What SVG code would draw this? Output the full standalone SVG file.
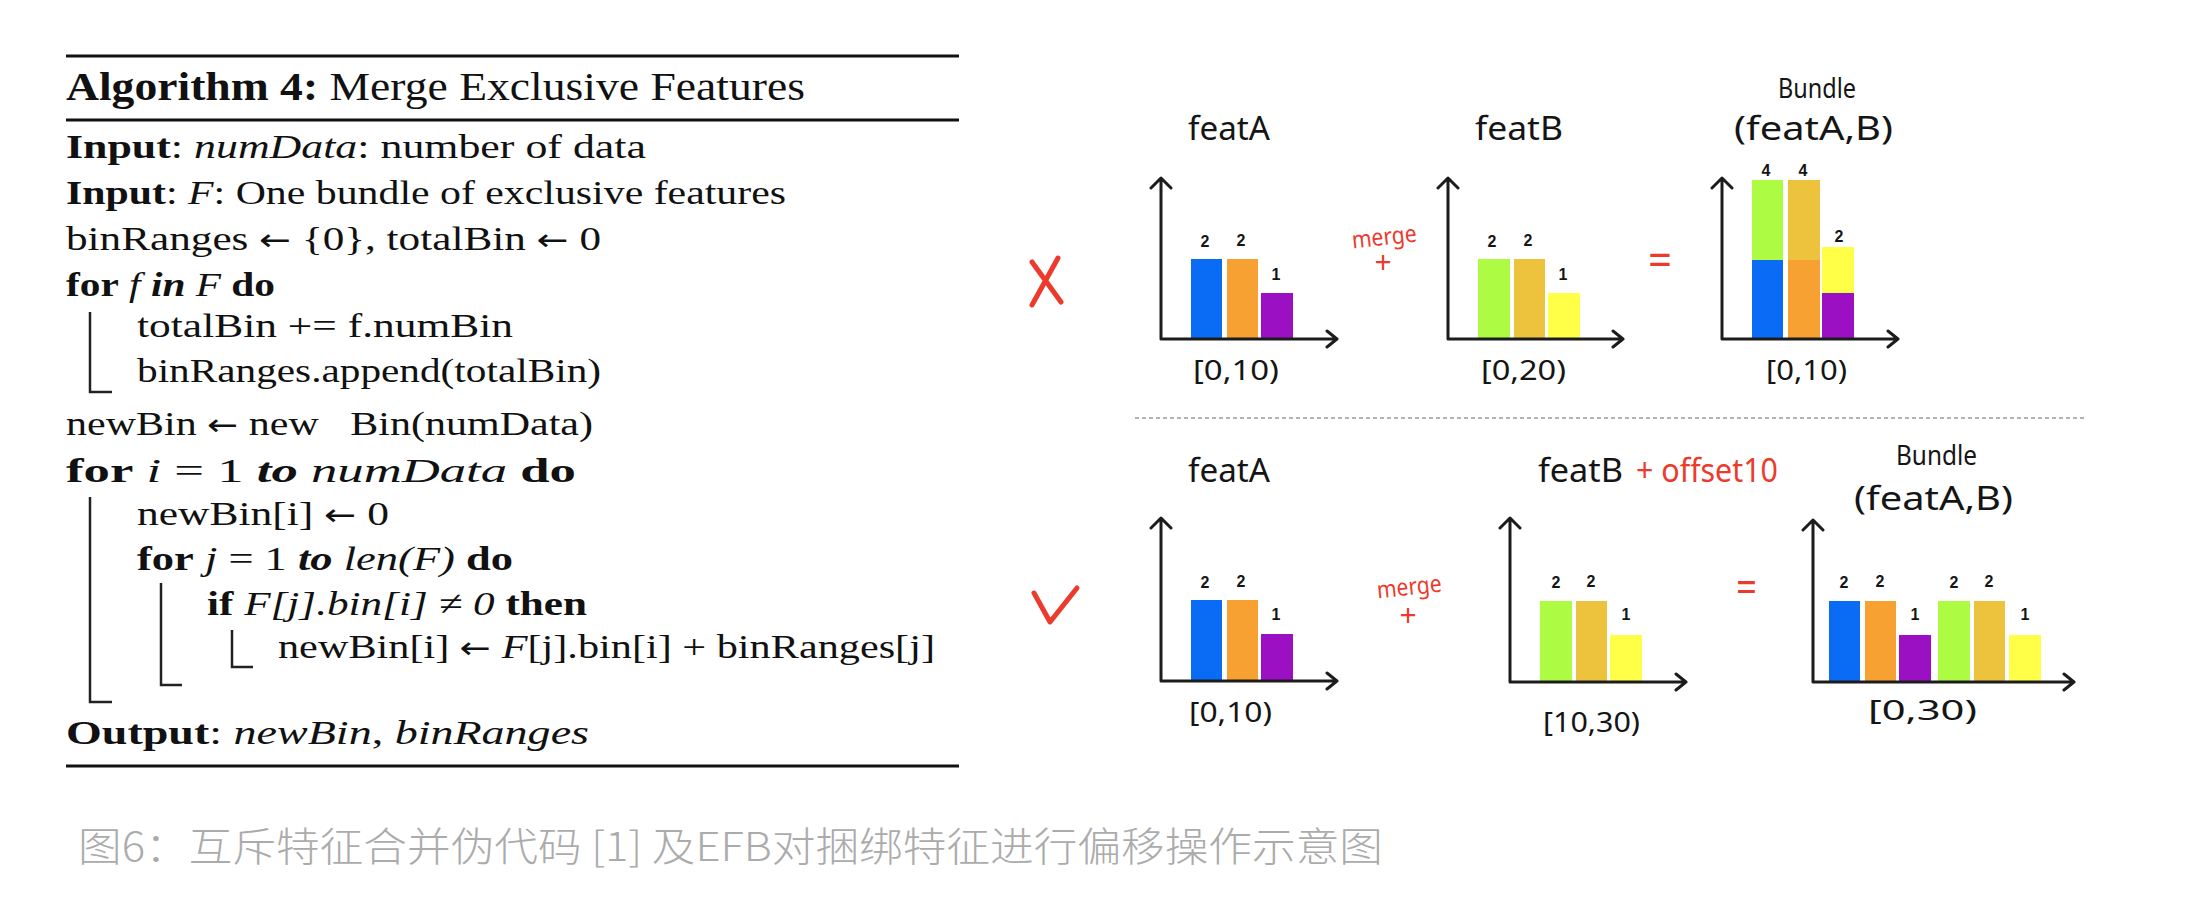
<svg xmlns="http://www.w3.org/2000/svg" width="2192" height="918" viewBox="0 0 2192 918">
<style>
.alg{font-family:"Liberation Serif",serif;font-size:34px;fill:#111}
.h{font-size:41px}
.b{font-weight:bold}
.i{font-style:italic}
.ar{font-family:"DejaVu Sans",sans-serif;font-size:30px}
.rule{stroke:#111;stroke-width:3}
.brk{stroke:#222;stroke-width:2.5;fill:none}
.hw{font-family:"Noto Sans","DejaVu Sans",sans-serif;fill:#151515}
.lbl{font-size:33px}
.rng{font-size:27px}
.bdl{font-size:28px}
.red{fill:#ec3a2c}
.num{font-family:"Liberation Sans",sans-serif;font-size:16px;font-weight:bold;fill:#151515;text-anchor:middle}
.axis{stroke:#1c1c1c;stroke-width:3;fill:none;stroke-linecap:round;stroke-linejoin:round}
.mark{stroke:#ec3a2c;stroke-width:5;fill:none;stroke-linecap:round;stroke-linejoin:round}
.blue{fill:#0a6cf4}.orange{fill:#f6a131}.purple{fill:#9c10c3}
.green{fill:#adfc43}.gold{fill:#edc33d}.yellow{fill:#ffff47}
.cap{font-family:"Noto Sans CJK SC",sans-serif;font-size:40px;font-weight:300;fill:#ababab}
</style>
<rect width="2192" height="918" fill="#ffffff"/>

<g id="algorithm">
<line class="rule" x1="66" y1="56" x2="959" y2="56"/>
<text class="alg h" x="66" y="100" textLength="739" lengthAdjust="spacingAndGlyphs"><tspan class="b">Algorithm 4:</tspan> Merge Exclusive Features</text>
<line class="rule" x1="66" y1="120" x2="959" y2="120"/>
<text class="alg" x="66" y="158" textLength="580" lengthAdjust="spacingAndGlyphs"><tspan class="b">Input</tspan>: <tspan class="i">numData</tspan>: number of data</text>
<text class="alg" x="66" y="204" textLength="720" lengthAdjust="spacingAndGlyphs"><tspan class="b">Input</tspan>: <tspan class="i">F</tspan>: One bundle of exclusive features</text>
<text class="alg" x="66" y="250" textLength="535" lengthAdjust="spacingAndGlyphs">binRanges <tspan class="ar">←</tspan> {0}, totalBin <tspan class="ar">←</tspan> 0</text>
<text class="alg" x="66" y="296" textLength="209" lengthAdjust="spacingAndGlyphs"><tspan class="b">for</tspan> <tspan class="i">f</tspan> <tspan class="b i">in</tspan> <tspan class="i">F</tspan> <tspan class="b">do</tspan></text>
<text class="alg" x="137" y="337" textLength="376" lengthAdjust="spacingAndGlyphs">totalBin += f.numBin</text>
<text class="alg" x="137" y="382" textLength="464" lengthAdjust="spacingAndGlyphs">binRanges.append(totalBin)</text>
<text class="alg" x="66" y="435" textLength="527" lengthAdjust="spacingAndGlyphs">newBin <tspan class="ar">←</tspan> new&#160;&#160;&#160;Bin(numData)</text>
<text class="alg" x="66" y="482" textLength="510" lengthAdjust="spacingAndGlyphs"><tspan class="b">for</tspan> <tspan class="i">i</tspan> = 1 <tspan class="b i">to</tspan> <tspan class="i">numData</tspan> <tspan class="b">do</tspan></text>
<text class="alg" x="137" y="525" textLength="252" lengthAdjust="spacingAndGlyphs">newBin[i] <tspan class="ar">←</tspan> 0</text>
<text class="alg" x="137" y="570" textLength="376" lengthAdjust="spacingAndGlyphs"><tspan class="b">for</tspan> <tspan class="i">j</tspan> = 1 <tspan class="b i">to</tspan> <tspan class="i">len(F)</tspan> <tspan class="b">do</tspan></text>
<text class="alg" x="207" y="615" textLength="380" lengthAdjust="spacingAndGlyphs"><tspan class="b">if</tspan> <tspan class="i">F[j].bin[i] ≠ 0</tspan> <tspan class="b">then</tspan></text>
<text class="alg" x="278" y="658" textLength="657" lengthAdjust="spacingAndGlyphs">newBin[i] <tspan class="ar">←</tspan> <tspan class="i">F</tspan>[j].bin[i] + binRanges[j]</text>
<text class="alg" x="66" y="744" textLength="523" lengthAdjust="spacingAndGlyphs"><tspan class="b">Output</tspan>: <tspan class="i">newBin</tspan>, <tspan class="i">binRanges</tspan></text>
<line class="rule" x1="66" y1="766" x2="959" y2="766"/>
<path class="brk" d="M90,312 V392 H112"/>
<path class="brk" d="M90,497 V702 H112"/>
<path class="brk" d="M161,583 V685 H182"/>
<path class="brk" d="M232,630 V667 H253"/>
</g>

<g id="wrong-mark">
<path class="mark" d="M1032,262 L1061,302 M1058,258 L1032,305"/>
</g>

<g id="chartA-top">
<text class="hw lbl" x="1188" y="140" textLength="82" lengthAdjust="spacingAndGlyphs">featA</text>
<rect class="blue" x="1191" y="259" width="31" height="80"/>
<rect class="orange" x="1227" y="259" width="31" height="80"/>
<rect class="purple" x="1261" y="293" width="32" height="46"/>
<path class="axis" d="M1161,339 V178 M1151,188 L1161,178 L1171,188 M1161,339 H1337 M1327,331 L1337,339 L1327,347"/>
<text class="num" x="1205" y="247">2</text>
<text class="num" x="1241" y="246">2</text>
<text class="num" x="1276" y="280">1</text>
<text class="hw rng" x="1193" y="380" textLength="86" lengthAdjust="spacingAndGlyphs">[0,10)</text>
</g>

<g id="merge-top">
<text class="hw red" font-size="24" x="1352" y="245" textLength="65" lengthAdjust="spacingAndGlyphs" transform="rotate(-6 1385 240)">merge</text>
<text class="hw red" font-size="30" x="1383" y="273" text-anchor="middle">+</text>
</g>

<g id="chartB-top">
<text class="hw lbl" x="1475" y="140" textLength="88" lengthAdjust="spacingAndGlyphs">featB</text>
<rect class="green" x="1478" y="259" width="32" height="80"/>
<rect class="gold" x="1514" y="259" width="31" height="80"/>
<rect class="yellow" x="1548" y="293" width="32" height="46"/>
<path class="axis" d="M1448,339 V178 M1438,188 L1448,178 L1458,188 M1448,339 H1623 M1613,331 L1623,339 L1613,347"/>
<text class="num" x="1492" y="247">2</text>
<text class="num" x="1528" y="246">2</text>
<text class="num" x="1563" y="280">1</text>
<text class="hw rng" x="1481" y="380" textLength="85" lengthAdjust="spacingAndGlyphs">[0,20)</text>
</g>

<g id="equals-top">
<text class="hw red" font-size="46" x="1648" y="276" textLength="24" lengthAdjust="spacingAndGlyphs">=</text>
</g>

<g id="bundle-top">
<text class="hw bdl" x="1778" y="98" textLength="78" lengthAdjust="spacingAndGlyphs">Bundle</text>
<text class="hw lbl" x="1734" y="140" textLength="159" lengthAdjust="spacingAndGlyphs">(featA,B)</text>
<rect class="green" x="1752" y="180" width="31" height="80"/>
<rect class="blue" x="1752" y="260" width="31" height="79"/>
<rect class="gold" x="1788" y="180" width="32" height="80"/>
<rect class="orange" x="1788" y="260" width="32" height="79"/>
<rect class="yellow" x="1822" y="247" width="32" height="46"/>
<rect class="purple" x="1822" y="293" width="32" height="46"/>
<path class="axis" d="M1722,339 V178 M1712,188 L1722,178 L1732,188 M1722,339 H1898 M1888,331 L1898,339 L1888,347"/>
<text class="num" x="1766" y="176">4</text>
<text class="num" x="1803" y="176">4</text>
<text class="num" x="1839" y="242">2</text>
<text class="hw rng" x="1766" y="380" textLength="81" lengthAdjust="spacingAndGlyphs">[0,10)</text>
</g>

<g id="separator">
<line x1="1135" y1="418" x2="2087" y2="418" stroke="#9a9a9a" stroke-width="1.5" stroke-dasharray="4 3"/>
</g>

<g id="right-mark">
<path class="mark" d="M1034,593 L1050,622 L1077,588"/>
</g>

<g id="chartA-bottom">
<text class="hw lbl" x="1188" y="482" textLength="82" lengthAdjust="spacingAndGlyphs">featA</text>
<rect class="blue" x="1191" y="600" width="31" height="81"/>
<rect class="orange" x="1227" y="600" width="31" height="81"/>
<rect class="purple" x="1261" y="634" width="32" height="47"/>
<path class="axis" d="M1161,681 V518 M1151,528 L1161,518 L1171,528 M1161,681 H1337 M1327,673 L1337,681 L1327,689"/>
<text class="num" x="1205" y="588">2</text>
<text class="num" x="1241" y="587">2</text>
<text class="num" x="1276" y="620">1</text>
<text class="hw rng" x="1189" y="722" textLength="83" lengthAdjust="spacingAndGlyphs">[0,10)</text>
</g>

<g id="merge-bottom">
<text class="hw red" font-size="24" x="1377" y="595" textLength="65" lengthAdjust="spacingAndGlyphs" transform="rotate(-6 1410 590)">merge</text>
<text class="hw red" font-size="30" x="1408" y="626" text-anchor="middle">+</text>
</g>

<g id="chartB-bottom">
<text class="hw lbl" x="1538" y="482" textLength="85" lengthAdjust="spacingAndGlyphs">featB</text>
<text class="hw red lbl" x="1636" y="482" textLength="142" lengthAdjust="spacingAndGlyphs">+ offset10</text>
<rect class="green" x="1540" y="601" width="32" height="81"/>
<rect class="gold" x="1576" y="601" width="31" height="81"/>
<rect class="yellow" x="1610" y="635" width="32" height="47"/>
<path class="axis" d="M1510,682 V518 M1500,528 L1510,518 L1520,528 M1510,682 H1686 M1676,674 L1686,682 L1676,690"/>
<text class="num" x="1556" y="588">2</text>
<text class="num" x="1591" y="587">2</text>
<text class="num" x="1626" y="620">1</text>
<text class="hw rng" x="1543" y="732" textLength="97" lengthAdjust="spacingAndGlyphs">[10,30)</text>
</g>

<g id="equals-bottom">
<text class="hw red" font-size="44" x="1736" y="603" textLength="21" lengthAdjust="spacingAndGlyphs">=</text>
</g>

<g id="bundle-bottom">
<text class="hw bdl" x="1896" y="465" textLength="81" lengthAdjust="spacingAndGlyphs">Bundle</text>
<text class="hw lbl" x="1854" y="510" textLength="159" lengthAdjust="spacingAndGlyphs">(featA,B)</text>
<rect class="blue" x="1829" y="601" width="31" height="81"/>
<rect class="orange" x="1865" y="601" width="31" height="81"/>
<rect class="purple" x="1899" y="635" width="32" height="47"/>
<rect class="green" x="1938" y="601" width="32" height="81"/>
<rect class="gold" x="1974" y="601" width="31" height="81"/>
<rect class="yellow" x="2009" y="635" width="32" height="47"/>
<path class="axis" d="M1813,682 V520 M1803,530 L1813,520 L1823,530 M1813,682 H2074 M2064,674 L2074,682 L2064,690"/>
<text class="num" x="1844" y="588">2</text>
<text class="num" x="1880" y="587">2</text>
<text class="num" x="1915" y="620">1</text>
<text class="num" x="1954" y="588">2</text>
<text class="num" x="1989" y="587">2</text>
<text class="num" x="2025" y="620">1</text>
<text class="hw rng" x="1868" y="720" textLength="109" lengthAdjust="spacingAndGlyphs">[0,30)</text>
</g>

<g id="caption">
<text class="cap" x="78" y="861" textLength="1305" lengthAdjust="spacingAndGlyphs">图6：互斥特征合并伪代码 [1] 及EFB对捆绑特征进行偏移操作示意图</text>
</g>
</svg>
